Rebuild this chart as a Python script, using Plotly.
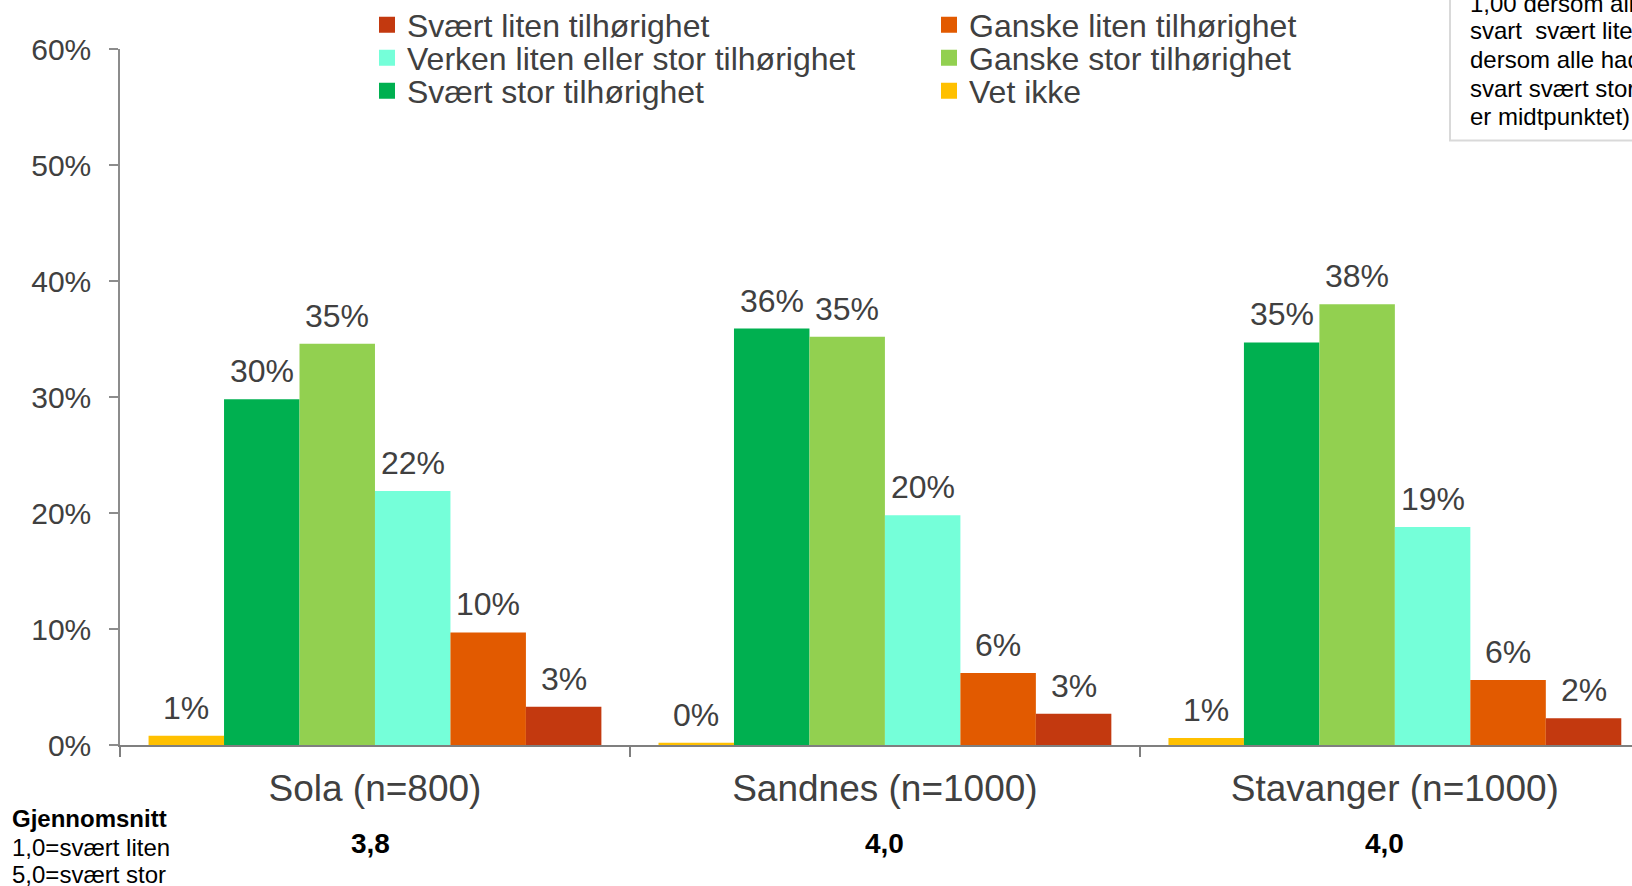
import plotly.graph_objects as go

categories = ["Sola (n=800)", "Sandnes (n=1000)", "Stavanger (n=1000)"]
means = ["3,8", "4,0", "4,0"]

series_names = [
    "Vet ikke",
    "Svært stor tilhørighet",
    "Ganske stor tilhørighet",
    "Verken liten eller stor tilhørighet",
    "Ganske liten tilhørighet",
    "Svært liten tilhørighet",
]
vet_ikke = [0.8, 0.2, 0.6]
svaert_stor = [29.8, 35.9, 34.7]
ganske_stor = [34.6, 35.2, 38.0]
verken = [21.9, 19.8, 18.8]
ganske_liten = [9.7, 6.2, 5.6]
svaert_liten = [3.3, 2.7, 2.3]

colors = ["#FFC000", "#00B050", "#92D050", "#75FFD9", "#E25A00", "#C3390F"]
legend_ids = ["legend3", "legend3", "legend2", "legend2", "legend", "legend"]
values = [vet_ikke, svaert_stor, ganske_stor, verken, ganske_liten, svaert_liten]

FONT = "Liberation Sans, Arial, sans-serif"
TXT = "#404040"

W, H = 1632, 886
L_PAGE, T_PAGE, B_PAGE = 120, 49, 745
PW = W - L_PAGE
PH = B_PAGE - T_PAGE
XRANGE = [-0.5, 2.465]
BARGAP = 0.112


def px(x):
    return (x - L_PAGE) / PW


def py(y):
    return (B_PAGE - y) / PH


fig = go.Figure()
for name, vals, col in zip(series_names, values, colors):
    fig.add_trace(go.Bar(
        x=categories, y=vals, name=name, showlegend=False,
        marker=dict(color=col, line=dict(width=0)),
        cliponaxis=False,
    ))
# legend entries (square swatches)
for name, col, lg in zip(series_names, colors, legend_ids):
    fig.add_trace(go.Scatter(
        x=[None], y=[None], name=name, legend=lg, mode="markers",
        marker=dict(symbol="square", size=16, color=col), showlegend=True,
    ))

# value labels above bars (positioned through the data axes)
cat_px = PW / (XRANGE[1] - XRANGE[0])
bar_px = cat_px * (1 - BARGAP) / len(series_names)
for i, vals in enumerate(values):
    shift = (i - (len(series_names) - 1) / 2) * bar_px
    for cat, v in zip(categories, vals):
        fig.add_annotation(x=cat, y=v, xref="x", yref="y", text=f"{v:.0f}%",
                           showarrow=False, xshift=shift, yshift=8,
                           xanchor="center", yanchor="bottom",
                           font=dict(family=FONT, size=32, color=TXT))

leg_common = dict(
    orientation="h", xanchor="left", yanchor="middle",
    font=dict(family=FONT, size=32, color=TXT),
    entrywidth=517, traceorder="reversed",
    bgcolor="rgba(0,0,0,0)", itemclick=False,
)
row_y = [25, 58, 91]
fig.update_layout(
    width=W, height=H,
    margin=dict(l=L_PAGE, r=0, t=T_PAGE, b=H - B_PAGE, pad=0, autoexpand=False),
    paper_bgcolor="white", plot_bgcolor="white",
    barmode="group", bargap=BARGAP, bargroupgap=0,
    font=dict(family=FONT, color=TXT),
    showlegend=True,
    legend=dict(x=px(367), y=py(row_y[0]), **leg_common),
    legend2=dict(x=px(367), y=py(row_y[1]), **leg_common),
    legend3=dict(x=px(367), y=py(row_y[2]), **leg_common),
)

fig.update_yaxes(
    range=[0, 60], dtick=10, ticksuffix="%",
    showgrid=False, zeroline=False,
    showline=True, linecolor="#8C8C8C", linewidth=1.5,
    ticks="outside", ticklen=9, tickcolor="#8C8C8C", tickwidth=1.5,
    tickfont=dict(family=FONT, size=30, color=TXT),
    ticklabelstandoff=12,
)
fig.update_xaxes(
    range=XRANGE,
    showgrid=False, showline=True, linecolor="#7F7F7F", linewidth=1.5,
    ticks="outside", tickson="boundaries", ticklen=10, tickcolor="#7F7F7F", tickwidth=1.5,
    tickfont=dict(family=FONT, size=37, color=TXT),
    ticklabelstandoff=10,
)

# mean values under categories
mean_xshift = [-4, 0, -10]
for cat, m, xs in zip(categories, means, mean_xshift):
    fig.add_annotation(x=cat, xref="x", y=py(843), yref="paper", text="<b>" + m + "</b>",
                       showarrow=False, font=dict(family=FONT, size=28, color="#000000"),
                       xanchor="center", yanchor="middle", xshift=xs)

left_lines = ["<b>Gjennomsnitt</b>", "1,0=svært liten", "5,0=svært stor"]
left_y = [818, 847, 875]
for t, yy in zip(left_lines, left_y):
    fig.add_annotation(x=px(10), xref="paper", y=py(yy), yref="paper", text=t,
                       showarrow=False, font=dict(family=FONT, size=24, color="#000000"),
                       xanchor="left", yanchor="middle")

# note box at top right (cropped)
fig.add_shape(type="rect", xref="paper", yref="paper",
              x0=px(1450), x1=1.2, y0=py(140.5), y1=1.2,
              line=dict(color="#D9D9D9", width=2), fillcolor="white", layer="below")
box_lines = ["1,00 dersom alle hadde", "svart  svært liten, 5,00", "dersom alle hadde",
             "svart svært stor, 3,00", "er midtpunktet)"]
box_y = [3, 31, 59, 88.5, 116.5]
for t, yy in zip(box_lines, box_y):
    fig.add_annotation(x=px(1468), xref="paper", y=py(yy), yref="paper", text=t,
                       showarrow=False, font=dict(family=FONT, size=24, color="#000000"),
                       xanchor="left", yanchor="middle")

fig.write_html(
    "out.html",
    config={"displayModeBar": False},
    post_script="document.body.style.margin='0';document.body.style.overflow='hidden';",
)
